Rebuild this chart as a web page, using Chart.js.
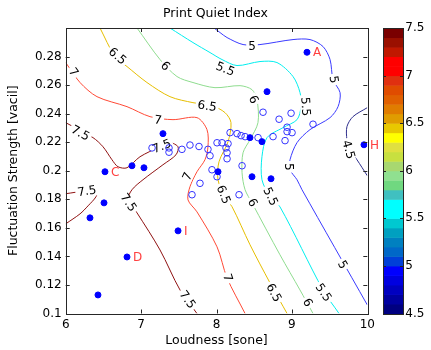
<!DOCTYPE html>
<html>
<head>
<meta charset="utf-8">
<script src="https://cdn.jsdelivr.net/npm/chart.js@4.4.1/dist/chart.umd.min.js"></script>
<style>
  html, body { margin: 0; padding: 0; background: #fff; }
  canvas { display: block; }
</style>
</head>
<body>
<canvas id="pqi" width="431" height="350"></canvas>
<script>
// measured points (loudness [sone], fluctuation strength [vacil])
const filledX = [9.20, 8.67, 9.956, 7.29, 6.879, 7.038, 6.521, 6.508, 6.322, 7.49, 6.813, 6.428, 8.02, 8.471, 8.723, 8.444, 8.603];
const filledY = [0.283, 0.2554, 0.2182, 0.226, 0.2035, 0.2021, 0.1993, 0.1775, 0.167, 0.1579, 0.1396, 0.113, 0.1993, 0.1958, 0.1944, 0.2232, 0.2204];
const filledNames = ['A', '', 'H', '', '', '', 'C', '', '', 'I', 'D', '', '', '', '', '', ''];

const openX = [7.145, 7.37, 7.37, 7.542, 7.648, 7.768, 7.887, 7.914, 8.007, 8.073, 8.153, 8.126, 8.14, 8.14, 7.94, 7.781, 7.675,
  8.18, 8.273, 8.326, 8.379, 8.339, 8.617, 8.989, 8.83, 9.28, 8.936, 8.936, 9.002, 8.909, 8.75, 8.299, 8.007, 8.551];
const openY = [0.216, 0.216, 0.213, 0.215, 0.218, 0.217, 0.215, 0.2105, 0.2196, 0.2196, 0.219, 0.216, 0.2126, 0.2084, 0.2007, 0.1912, 0.1832,
  0.2267, 0.226, 0.2246, 0.2239, 0.2035, 0.241, 0.2403, 0.2361, 0.2326, 0.2305, 0.2274, 0.2267, 0.2211, 0.2239, 0.1832, 0.1958, 0.2232];

// contour lines of the index
const c75aX = [6.0, 6.362, 6.495, 6.614, 6.694, 6.813, 6.985, 7.251, 7.384, 7.49, 7.463, 7.29, 7.025, 6.879, 6.826, 6.946, 7.251, 7.516, 7.741];
const c75aY = [0.2337, 0.2232, 0.2168, 0.2077, 0.2028, 0.2021, 0.2098, 0.2168, 0.2196, 0.2168, 0.2112, 0.2042, 0.1937, 0.1867, 0.1796, 0.1705, 0.1445, 0.1165, 0.1];
const c75bX = [6.0, 6.282, 6.415, 6.402, 6.296, 6.19, 6.0];
const c75bY = [0.1839, 0.186, 0.186, 0.1818, 0.1754, 0.1698, 0.1628];
const c70X = [6.0, 6.19, 6.415, 6.813, 7.118, 7.423, 7.741, 7.874, 7.887, 7.847, 7.741, 7.648, 7.622, 7.741, 8.007, 8.14, 8.379];
const c70Y = [0.2758, 0.2618, 0.2519, 0.2449, 0.2379, 0.2358, 0.2372, 0.2288, 0.2168, 0.2077, 0.1993, 0.1888, 0.1796, 0.1712, 0.1467, 0.1249, 0.1];
const c65X = [6.455, 6.654, 6.813, 7.078, 7.383, 7.688, 7.94, 8.113, 8.192, 8.153, 8.033, 8.02, 8.113, 8.206, 8.445, 8.71, 8.936];
const c65Y = [0.3, 0.28, 0.273, 0.2618, 0.2519, 0.2477, 0.2456, 0.2407, 0.2337, 0.2203, 0.2063, 0.1937, 0.1811, 0.1748, 0.1481, 0.1214, 0.1];
const c60X = [6.946, 7.251, 7.476, 7.688, 7.98, 8.312, 8.471, 8.537, 8.55, 8.445, 8.352, 8.339, 8.379, 8.471, 8.842, 9.107, 9.28];
const c60Y = [0.3, 0.2779, 0.266, 0.2618, 0.2582, 0.2596, 0.2568, 0.2498, 0.2337, 0.2218, 0.2126, 0.1986, 0.1867, 0.1775, 0.1411, 0.1165, 0.1];
const c55X = [7.383, 7.688, 7.914, 8.073, 8.272, 8.577, 8.802, 9.015, 9.108, 9.121, 9.068, 8.882, 8.67, 8.603, 8.603, 8.71, 8.842, 9.412, 9.625];
const c55Y = [0.3, 0.2898, 0.2828, 0.2779, 0.2737, 0.2765, 0.2758, 0.266, 0.2547, 0.2449, 0.2358, 0.2302, 0.2232, 0.2099, 0.1937, 0.1818, 0.1747, 0.1165, 0.1];
const c50X = [7.967, 8.047, 8.14, 8.352, 8.577, 9.015, 9.24, 9.413, 9.506, 9.546, 9.639, 9.612, 9.506, 9.24, 9.068, 8.975, 8.975, 9.068, 9.134, 10.0];
const c50Y = [0.3, 0.2968, 0.2933, 0.2884, 0.2884, 0.2919, 0.2919, 0.287, 0.2779, 0.2638, 0.2547, 0.2449, 0.2372, 0.2288, 0.2197, 0.2077, 0.2007, 0.1937, 0.1867, 0.106];
const c45X = [10.0, 9.81, 9.73, 9.73, 9.77, 9.863, 10.0];
const c45Y = [0.2442, 0.2379, 0.2309, 0.2218, 0.2147, 0.2077, 0.1965];

// contour label anchors
const labelLevels = [7.5, 7.5, 7.5, 7.5, 7.5, 7, 7, 7, 7, 6.5, 6.5, 6.5, 6.5, 6, 6, 6, 6, 5.5, 5.5, 5.5, 5.5, 5, 5, 5, 5, 4.5];
const labelX = [6.19, 7.277, 6.826, 7.609, 6.282, 6.097, 7.224, 7.622, 8.14, 6.68, 7.874, 8.086, 8.753, 7.317, 8.484, 8.471, 9.2, 8.113, 9.174, 8.71, 9.413, 8.471, 9.546, 8.948, 9.665, 9.744];
const labelY = [0.226, 0.2168, 0.1775, 0.1095, 0.1853, 0.2688, 0.2351, 0.1958, 0.1249, 0.28, 0.2449, 0.1832, 0.1144, 0.273, 0.2498, 0.1775, 0.1074, 0.2709, 0.2449, 0.1818, 0.1144, 0.287, 0.2638, 0.2028, 0.134, 0.2147];

const xTicksMin = 6, xTicksMax = 10, yMin = 0.1, yMax = 0.3;
const cbMin = 4.5, cbMax = 7.5;

const FONT = '"DejaVu Sans", "Liberation Sans", Arial, sans-serif';

const levelColor = {
  7.5: '#8f1212', 7: '#ff4a36', 6.5: '#e6be00', 6: '#8fdc8f', 5.5: '#00eeee', 5: '#3b3bff', 4.5: '#2e2e8c'
};

// colorbar bands, bottom (4.5) to top (7.5), 0.1 each
const cbColors = ['#000080', '#0000a0', '#0000c0', '#0000e0', '#0000ff', '#0040d8', '#0068c8', '#0080c0', '#00a0c0', '#00c8d0',
  '#00ffff', '#00ffff', '#40c0c0', '#70d880', '#90e090', '#a8d870', '#c8e040', '#e0e040', '#ffff00', '#e8c800',
  '#e09c00', '#e07c00', '#e06000', '#e04c00', '#e03010', '#ff0000', '#ff0000', '#c01800', '#9a1000', '#7a0000'];

function pts(xs, ys) { return xs.map((x, i) => ({ x: x, y: ys[i] })); }

const contours = [
  { level: 7.5, x: c75aX, y: c75aY },
  { level: 7.5, x: c75bX, y: c75bY },
  { level: 7, x: c70X, y: c70Y },
  { level: 6.5, x: c65X, y: c65Y },
  { level: 6, x: c60X, y: c60Y },
  { level: 5.5, x: c55X, y: c55Y },
  { level: 5, x: c50X, y: c50Y },
  { level: 4.5, x: c45X, y: c45Y }
];

const datasets = [
  { label: 'measured', data: pts(filledX, filledY), pointRadius: 3, pointBackgroundColor: '#0000ff', pointBorderColor: '#0000ff', pointBorderWidth: 1 },
  { label: 'other', data: pts(openX, openY), pointRadius: 3.3, pointBackgroundColor: 'rgba(0,0,0,0)', pointBorderColor: '#3434ff', pointBorderWidth: 1 }
];
contours.forEach(c => {
  datasets.push({
    label: 'c' + c.level,
    data: pts(c.x, c.y),
    showLine: true,
    pointRadius: 0,
    borderColor: levelColor[c.level],
    borderWidth: 1,
    tension: 0.3,
    fill: false
  });
});
const FIRST_CONTOUR = 2;

const contourLabels = {
  id: 'contourLabels',
  afterDatasetDraw(chart, args) {
    if (args.index !== FIRST_CONTOUR) return;
    const ctx = chart.ctx, xs = chart.scales.x, ys = chart.scales.y;
    ctx.save();
    ctx.font = '12px ' + FONT;
    ctx.textAlign = 'center';
    ctx.textBaseline = 'middle';
    labelLevels.forEach((lev, i) => {
      const px = xs.getPixelForValue(labelX[i]), py = ys.getPixelForValue(labelY[i]);
      let best = Infinity, ang = 0;
      contours.filter(c => c.level === lev).forEach(c => {
        for (let k = 0; k < c.x.length - 1; k++) {
          const ax = xs.getPixelForValue(c.x[k]), ay = ys.getPixelForValue(c.y[k]);
          const bx = xs.getPixelForValue(c.x[k + 1]), by = ys.getPixelForValue(c.y[k + 1]);
          const dx = bx - ax, dy = by - ay;
          let t = ((px - ax) * dx + (py - ay) * dy) / (dx * dx + dy * dy || 1);
          t = Math.max(0, Math.min(1, t));
          const qx = ax + t * dx - px, qy = ay + t * dy - py;
          const d = qx * qx + qy * qy;
          if (d < best) { best = d; ang = Math.atan2(dy, dx); }
        }
      });
      if (ang > Math.PI / 2) ang -= Math.PI;
      if (ang < -Math.PI / 2) ang += Math.PI;
      const txt = String(lev);
      const w = ctx.measureText(txt).width;
      ctx.save();
      ctx.translate(px, py);
      ctx.rotate(ang);
      ctx.fillStyle = '#fff';
      ctx.fillRect(-w / 2 - 2, -5, w + 4, 10);
      ctx.fillStyle = '#000';
      ctx.fillText(txt, 0, 0);
      ctx.restore();
    });
    ctx.restore();
  }
};

const frame = {
  id: 'frame',
  afterDraw(chart) {
    const ctx = chart.ctx, a = chart.chartArea;
    const xs = chart.scales.x, ys = chart.scales.y, cb = chart.scales.cb;
    ctx.save();

    // point names
    const meta = chart.getDatasetMeta(0);
    ctx.font = '12px ' + FONT;
    ctx.fillStyle = '#ff4040';
    ctx.textAlign = 'left';
    ctx.textBaseline = 'middle';
    meta.data.forEach((el, i) => {
      if (filledNames[i]) ctx.fillText(filledNames[i], el.x + 6, el.y + 1);
    });

    // axes box with inward ticks
    ctx.strokeStyle = '#262626';
    ctx.lineWidth = 1;
    ctx.strokeRect(Math.round(a.left) + 0.5, Math.round(a.top) + 0.5, Math.round(a.right - a.left), Math.round(a.bottom - a.top));
    ctx.beginPath();
    xs.ticks.forEach(t => {
      if (t.value <= xTicksMin || t.value >= xTicksMax) return;
      const x = Math.round(xs.getPixelForValue(t.value)) + 0.5;
      ctx.moveTo(x, a.bottom); ctx.lineTo(x, a.bottom - 4);
      ctx.moveTo(x, a.top); ctx.lineTo(x, a.top + 4);
    });
    ys.ticks.forEach(t => {
      if (t.value <= yMin + 1e-6 || t.value >= yMax - 1e-6) return;
      const y = Math.round(ys.getPixelForValue(t.value)) + 0.5;
      ctx.moveTo(a.left, y); ctx.lineTo(a.left + 4, y);
      ctx.moveTo(a.right, y); ctx.lineTo(a.right - 4, y);
    });
    ctx.stroke();

    // colorbar
    const bx = Math.round(cb.left + 16), bw = 20;
    const step = (cbMax - cbMin) / cbColors.length;
    cbColors.forEach((col, i) => {
      const y0 = cb.getPixelForValue(cbMin + i * step), y1 = cb.getPixelForValue(cbMin + (i + 1) * step);
      ctx.fillStyle = col;
      ctx.fillRect(bx, y1, bw, y0 - y1 + 0.5);
    });
    ctx.strokeStyle = '#262626';
    ctx.strokeRect(bx + 0.5, Math.round(cb.top) + 0.5, bw, Math.round(cb.bottom - cb.top));
    ctx.beginPath();
    cb.ticks.forEach(t => {
      if (t.value <= cbMin || t.value >= cbMax) return;
      const y = Math.round(cb.getPixelForValue(t.value)) + 0.5;
      ctx.moveTo(bx, y); ctx.lineTo(bx + 3, y);
      ctx.moveTo(bx + bw, y); ctx.lineTo(bx + bw - 3, y);
    });
    ctx.stroke();
    ctx.restore();
  }
};

new Chart(document.getElementById('pqi'), {
  type: 'scatter',
  data: { datasets: datasets },
  options: {
    responsive: false,
    animation: false,
    events: [],
    layout: { padding: 0 },
    plugins: {
      legend: { display: false },
      tooltip: { enabled: false },
      title: {
        display: true,
        text: 'Print Quiet Index',
        color: '#000',
        font: { family: FONT, size: 12.5, weight: 'normal' },
        padding: { top: 6, bottom: 7 }
      }
    },
    scales: {
      x: {
        type: 'linear', min: xTicksMin, max: xTicksMax,
        grid: { display: false, drawTicks: false },
        border: { display: false },
        ticks: { stepSize: 1, color: '#000', padding: 4, font: { family: FONT, size: 12 } },
        title: { display: true, text: 'Loudness [sone]', color: '#000', font: { family: FONT, size: 12.5 }, padding: { top: 0, bottom: 2 } },
        afterFit: s => { s.height = 36.5; }
      },
      y: {
        type: 'linear', min: yMin, max: yMax,
        grid: { display: false, drawTicks: false },
        border: { display: false },
        ticks: {
          stepSize: 0.02, color: '#000', padding: 4, font: { family: FONT, size: 12 },
          callback: v => (v > yMax - 0.005 ? '' : String(+v.toFixed(2)))
        },
        title: { display: true, text: 'Fluctuation Strength [vacil]', color: '#000', font: { family: FONT, size: 12.5 }, padding: { top: 6, bottom: 0 } },
        afterFit: s => { s.width = 65.7; }
      },
      cb: {
        type: 'linear', axis: 'y', position: 'right', min: cbMin, max: cbMax,
        // invisible tick marks push the labels past the colour bar
        grid: { display: true, drawOnChartArea: false, drawTicks: true, tickLength: 38, color: 'rgba(0,0,0,0)' },
        border: { display: false },
        ticks: { stepSize: 0.5, color: '#000', padding: 0, font: { family: FONT, size: 12 }, callback: v => String(v) },
        afterFit: s => { s.width = 63.7; }
      }
    }
  },
  plugins: [contourLabels, frame]
});
</script>
</body>
</html>
